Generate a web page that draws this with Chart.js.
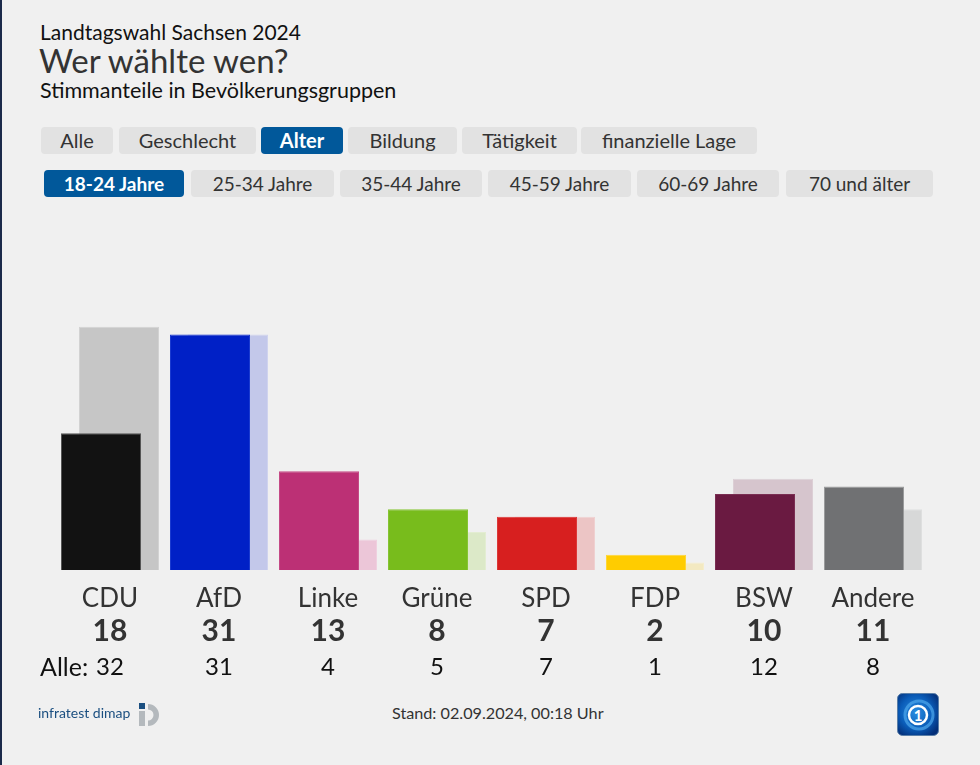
<!DOCTYPE html>
<html lang="de">
<head>
<meta charset="utf-8">
<script src="https://cdn.jsdelivr.net/npm/chart.js@4.4.1/dist/chart.umd.min.js"></script>
<style>
  html, body { margin: 0; padding: 0; }
  body { width: 980px; height: 765px; background: #f0f0f0; position: relative; overflow: hidden;
         font-family: Lato, "Noto Sans", sans-serif; color: #333; }
  .edge { position: absolute; left: 0; top: 0; width: 2px; height: 765px; background: #1b2a4a; }
  .t1 { position: absolute; left: 40px; top: 19px; font-size: 21px; color: #111; white-space: nowrap; }
  .t2 { position: absolute; left: 39px; top: 40px; font-size: 33px; color: #333; white-space: nowrap; }
  .t3 { position: absolute; left: 40px; top: 77px; font-size: 21.5px; color: #111; white-space: nowrap; }
  .tab { position: absolute; height: 27px; line-height: 27px; border-radius: 4px; background: #e2e2e2;
         text-align: center; font-size: 20px; color: #333; white-space: nowrap; }
  .tab.row2 { font-size: 19px; }
  .tab.on { background: #01589a; color: #fff; font-weight: bold; }
  #wrap { position: absolute; left: 0; top: 220px; width: 980px; height: 470px; }
  .alle { position: absolute; left: 40px; top: 651px; font-size: 25px; color: #111; }
  .infra { position: absolute; left: 38px; top: 704px; font-size: 14px; color: #1b4f80; }
  .stand { position: absolute; left: 392px; top: 703px; font-size: 16.2px; color: #333; }
</style>
</head>
<body>
<div class="edge"></div>
<div class="t1">Landtagswahl Sachsen 2024</div>
<div class="t2">Wer wählte wen?</div>
<div class="t3">Stimmanteile in Bevölkerungsgruppen</div>

<div class="tab" style="left:41px;top:127px;width:72px">Alle</div>
<div class="tab" style="left:119px;top:127px;width:137px">Geschlecht</div>
<div class="tab on" style="left:261px;top:127px;width:82px">Alter</div>
<div class="tab" style="left:348px;top:127px;width:109px">Bildung</div>
<div class="tab" style="left:462px;top:127px;width:115px">Tätigkeit</div>
<div class="tab" style="left:581px;top:127px;width:176px">finanzielle Lage</div>

<div class="tab row2 on" style="left:44px;top:170px;width:140px">18-24 Jahre</div>
<div class="tab row2" style="left:191px;top:170px;width:143px">25-34 Jahre</div>
<div class="tab row2" style="left:340px;top:170px;width:142px">35-44 Jahre</div>
<div class="tab row2" style="left:488px;top:170px;width:143px">45-59 Jahre</div>
<div class="tab row2" style="left:637px;top:170px;width:142px">60-69 Jahre</div>
<div class="tab row2" style="left:786px;top:170px;width:147px">70 und älter</div>

<div id="wrap"><canvas id="c" width="980" height="470"></canvas></div>
<div class="alle">Alle:</div>

<div class="infra">infratest dimap</div>
<svg style="position:absolute;left:138px;top:702px" width="26" height="26" viewBox="0 0 26 26">
  <rect x="1" y="1" width="6" height="6" fill="#1b4f80"/>
  <rect x="1" y="9" width="6" height="15" fill="#b4b9bd"/>
  <path d="M10 2 A11 11 0 1 1 10 24 L10 18.5 A5.5 5.5 0 1 0 10 7.5 Z" fill="#b4b9bd"/>
</svg>
<div class="stand">Stand: 02.09.2024, 00:18 Uhr</div>
<svg style="position:absolute;left:897px;top:693px" width="42" height="43" viewBox="0 0 42 43">
  <defs>
    <radialGradient id="g" cx="0.45" cy="0.45" r="0.65">
      <stop offset="0" stop-color="#2a8de0"/>
      <stop offset="0.6" stop-color="#0a5cb8"/>
      <stop offset="1" stop-color="#032e78"/>
    </radialGradient>
  </defs>
  <rect x="0.5" y="0.5" width="41" height="42" rx="5" fill="url(#g)" stroke="#5a7fa8" stroke-width="1"/>
  <circle cx="22" cy="22" r="14" fill="none" stroke="#4fa8ec" stroke-width="3" opacity="0.7"/>
  <circle cx="21" cy="22" r="9" fill="none" stroke="#fff" stroke-width="2.5"/>
  <text x="21" y="27.5" text-anchor="middle" font-family="Lato" font-weight="bold" font-size="15" fill="#fff">1</text>
</svg>

<script>
const parties = ["CDU", "AfD", "Linke", "Grüne", "SPD", "FDP", "BSW", "Andere"];
const groupValues = [18, 31, 13, 8, 7, 2, 10, 11];   // 18-24 Jahre
const allValues = [32, 31, 4, 5, 7, 1, 12, 8];       // Alle
const darkColors = ["#121212", "#0020c6", "#bc3075", "#78bc1c", "#d71f1f", "#ffcc00", "#6a1a41", "#707173"];
const lightColors = ["#c6c6c6", "#c3c8ea", "#ecc6d8", "#dce9c8", "#ecc5c5", "#f3e9c1", "#d6c5cd", "#d7d8d8"];
const darkBorders = ["#555555", "#1a3ad0", "#c44a86", "#86c434", "#dc3838", "#ffd633", "#7a2e52", "#9a9b9c"];
const lightBorders = ["#d2d2d2", "#cfd3ee", "#efd0df", "#e3edd2", "#efd0d0", "#f5edcc", "#dccfd5", "#dedfdf"];

new Chart(document.getElementById("c"), {
  type: "bar",
  data: {
    labels: parties,
    datasets: [
      { label: "18-24 Jahre", data: groupValues, backgroundColor: darkColors,
        borderColor: darkBorders, borderWidth: 1, xAxisID: "x" },
      { label: "Alle", data: allValues, backgroundColor: lightColors,
        borderColor: lightBorders, borderWidth: 1, xAxisID: "x" }
    ]
  },
  options: {
    responsive: false,
    animation: false,
    events: [],
    datasets: { bar: { categoryPercentage: 36 / 109, barPercentage: 80 / 18 } },
    layout: { padding: { left: 55.5, right: 52.5, top: 46, bottom: 10 } },
    plugins: { legend: { display: false }, tooltip: { enabled: false } },
    scales: {
      y: { display: false, min: 0, max: 40 },
      x: {
        type: "category", position: "bottom", weight: 0, offset: true,
        grid: { display: false, drawTicks: false }, border: { display: false },
        ticks: { padding: 15.6, color: "#333", font: { family: "Lato", size: 26, lineHeight: 1 } },
        afterFit: s => { s.height = 40; }
      },
      x2: {
        type: "category", position: "bottom", weight: 1, offset: true,
        labels: groupValues.map(String),
        grid: { display: false, drawTicks: false }, border: { display: false },
        ticks: { padding: 6.3, color: "#333", font: { family: "Lato", size: 30, weight: "bold", lineHeight: 1 } },
        afterFit: s => { s.height = 35; }
      },
      x3: {
        type: "category", position: "bottom", weight: 2, offset: true,
        labels: allValues.map(String),
        grid: { display: false, drawTicks: false }, border: { display: false },
        ticks: { padding: 10.3, color: "#111", font: { family: "Lato", size: 24, lineHeight: 1 } },
        afterFit: s => { s.height = 35; }
      }
    }
  }
});
</script>
</body>
</html>
